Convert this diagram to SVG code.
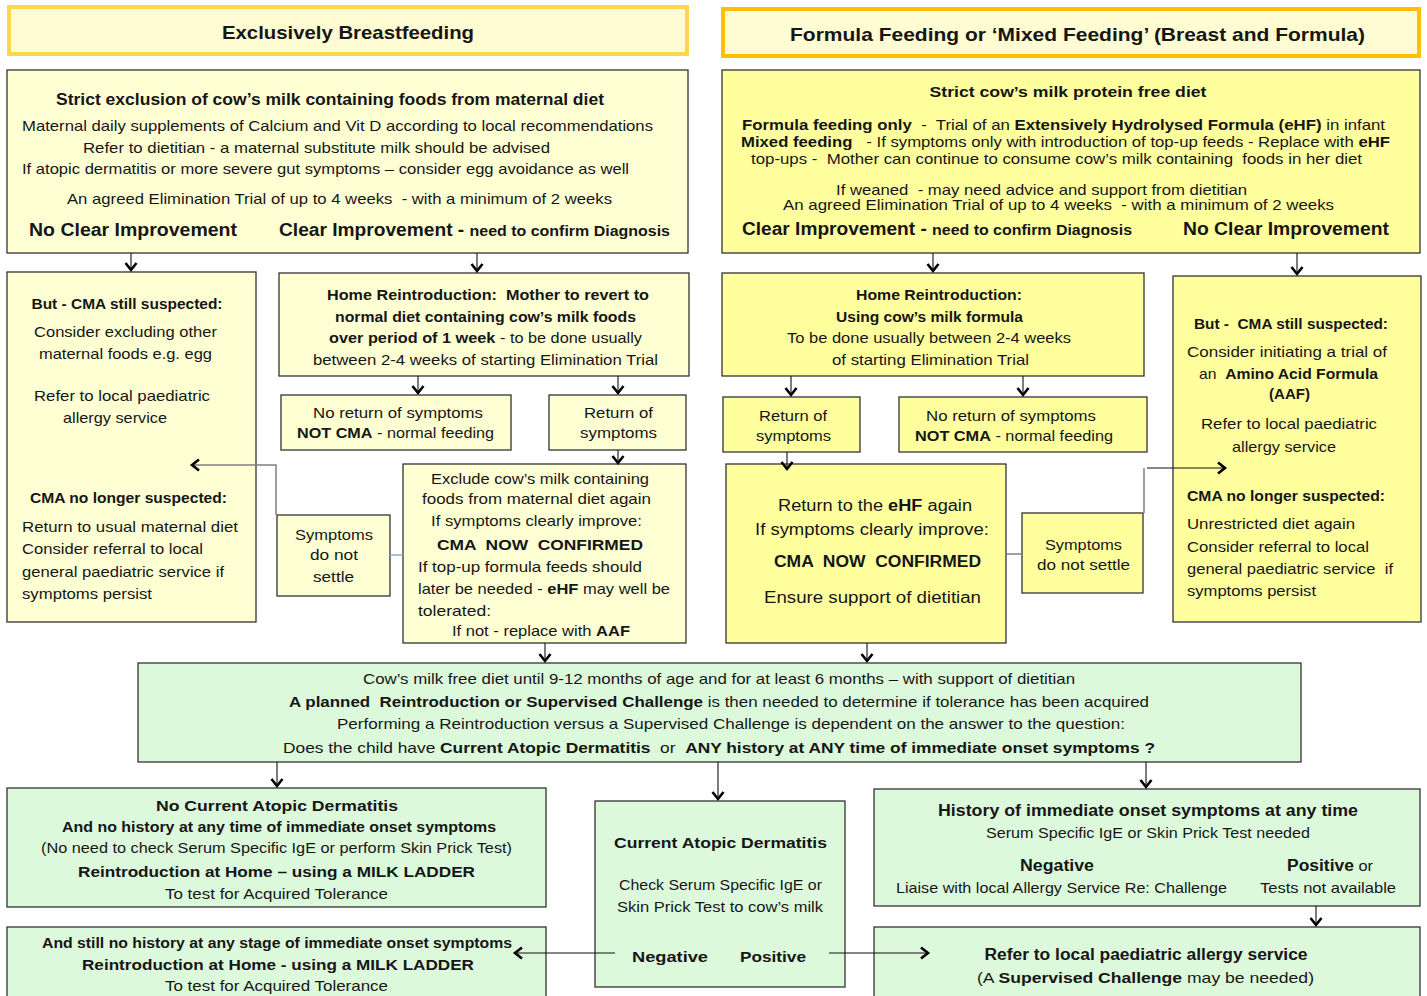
<svg xmlns="http://www.w3.org/2000/svg" width="1427" height="996" viewBox="0 0 1427 996">
<style>
.t{font-family:"Liberation Sans",Arial,sans-serif;font-size:15px;fill:#161616;white-space:pre}
.b{font-weight:bold}
.c{text-anchor:middle}
.big{font-size:18px;font-weight:bold}
.h{font-size:19px;font-weight:bold}
.hd1{fill:#fffbd2;stroke:#ffd54f;stroke-width:4}
.hd2{fill:#fffbd2;stroke:#ffc000;stroke-width:4}
.ly{fill:#ffffd4;stroke:#333;stroke-width:1.3}
.ry{fill:#ffff9e;stroke:#333;stroke-width:1.3}
.g{fill:#ddf9dc;stroke:#333;stroke-width:1.3}
.cn{stroke:#111;stroke-width:1.1;fill:none}
.gr{stroke:#808080;stroke-width:1.5;fill:none}
</style>
<defs>
<marker id="a" markerWidth="16" markerHeight="16" refX="9" refY="8" orient="auto" markerUnits="userSpaceOnUse">
<path d="M2,2.5 L9,8 L2,13.5" fill="none" stroke="#000" stroke-width="2.6"/>
</marker>
</defs>
<rect width="1427" height="996" fill="#fff"/>

<g id="hdr-left"><rect class="hd1" x="9" y="7" width="678" height="47"/><text class="t h c" x="348" y="39" textLength="252" lengthAdjust="spacingAndGlyphs">Exclusively Breastfeeding</text></g>
<g id="hdr-right"><rect class="hd2" x="723" y="9" width="696" height="47"/><text class="t h c" x="1077.5" y="41" textLength="575" lengthAdjust="spacingAndGlyphs">Formula Feeding or ‘Mixed Feeding’ (Breast and Formula)</text></g>

<g id="bf-start"><rect class="ly" x="7" y="70" width="681" height="183"/>
<text class="t b c" x="330" y="105" style="font-size:16px" textLength="548" lengthAdjust="spacingAndGlyphs">Strict exclusion of cow’s milk containing foods from maternal diet</text>
<text class="t" x="22" y="131" textLength="631" lengthAdjust="spacingAndGlyphs">Maternal daily supplements of Calcium and Vit D according to local recommendations</text>
<text class="t" x="83" y="153" textLength="467" lengthAdjust="spacingAndGlyphs">Refer to dietitian - a maternal substitute milk should be advised</text>
<text class="t" x="22" y="174" textLength="607" lengthAdjust="spacingAndGlyphs">If atopic dermatitis or more severe gut symptoms – consider egg avoidance as well</text>
<text class="t" x="67" y="204" textLength="545" lengthAdjust="spacingAndGlyphs">An agreed Elimination Trial of up to 4 weeks  - with a minimum of 2 weeks</text>
<text class="t big" x="29" y="236" textLength="208" lengthAdjust="spacingAndGlyphs">No Clear Improvement</text>
<text class="t big" x="279" y="236" textLength="391" lengthAdjust="spacingAndGlyphs">Clear Improvement - <tspan style="font-size:15px">need to confirm Diagnosis</tspan></text>
</g>

<g id="bf-suspected"><rect class="ly" x="7" y="272" width="249" height="350"/>
<text class="t b c" x="127" y="309" textLength="191" lengthAdjust="spacingAndGlyphs">But - CMA still suspected:</text>
<text class="t c" x="125.5" y="337" textLength="183" lengthAdjust="spacingAndGlyphs">Consider excluding other</text>
<text class="t c" x="125.5" y="359" textLength="173" lengthAdjust="spacingAndGlyphs">maternal foods e.g. egg</text>
<text class="t c" x="122" y="401" textLength="176" lengthAdjust="spacingAndGlyphs">Refer to local paediatric</text>
<text class="t c" x="115" y="423" textLength="104" lengthAdjust="spacingAndGlyphs">allergy service</text>
<text class="t b c" x="128.5" y="503" textLength="197" lengthAdjust="spacingAndGlyphs">CMA no longer suspected:</text>
<text class="t" x="22" y="532" textLength="216" lengthAdjust="spacingAndGlyphs">Return to usual maternal diet</text>
<text class="t" x="22" y="554" textLength="181" lengthAdjust="spacingAndGlyphs">Consider referral to local</text>
<text class="t" x="22" y="577" textLength="202" lengthAdjust="spacingAndGlyphs">general paediatric service if</text>
<text class="t" x="22" y="599" textLength="130" lengthAdjust="spacingAndGlyphs">symptoms persist</text>
</g>

<g id="bf-reintro"><rect class="ly" x="279" y="273" width="410" height="103"/>
<text class="t b c" x="488" y="300" textLength="322" lengthAdjust="spacingAndGlyphs">Home Reintroduction:  Mother to revert to</text>
<text class="t b c" x="485.5" y="322" textLength="301" lengthAdjust="spacingAndGlyphs">normal diet containing cow’s milk foods</text>
<text class="t c" x="485.5" y="343" textLength="313" lengthAdjust="spacingAndGlyphs"><tspan class="b">over period of 1 week</tspan> - to be done usually</text>
<text class="t c" x="485.5" y="365" textLength="345" lengthAdjust="spacingAndGlyphs">between 2-4 weeks of starting Elimination Trial</text>
</g>

<g id="bf-noreturn"><rect class="ly" x="281" y="395" width="230" height="55"/>
<text class="t c" x="398" y="418" textLength="170" lengthAdjust="spacingAndGlyphs">No return of symptoms</text>
<text class="t c" x="395.5" y="438" textLength="197" lengthAdjust="spacingAndGlyphs"><tspan class="b">NOT CMA</tspan> - normal feeding</text>
</g>

<g id="bf-return"><rect class="ly" x="549" y="395" width="137" height="55"/>
<text class="t c" x="618.5" y="418" textLength="69" lengthAdjust="spacingAndGlyphs">Return of</text>
<text class="t c" x="618.5" y="438" textLength="77" lengthAdjust="spacingAndGlyphs">symptoms</text>
</g>

<g id="bf-exclude"><rect class="ly" x="403" y="464" width="283" height="179"/>
<text class="t c" x="540" y="484" textLength="218" lengthAdjust="spacingAndGlyphs">Exclude cow’s milk containing</text>
<text class="t c" x="536.5" y="504" textLength="229" lengthAdjust="spacingAndGlyphs">foods from maternal diet again</text>
<text class="t c" x="536.5" y="526" textLength="211" lengthAdjust="spacingAndGlyphs">If symptoms clearly improve:</text>
<text class="t b c" x="540" y="550" textLength="206" lengthAdjust="spacingAndGlyphs">CMA  NOW  CONFIRMED</text>
<text class="t" x="418" y="572" textLength="224" lengthAdjust="spacingAndGlyphs">If top-up formula feeds should</text>
<text class="t" x="418" y="594" textLength="252" lengthAdjust="spacingAndGlyphs">later be needed - <tspan class="b">eHF</tspan> may well be</text>
<text class="t" x="418" y="616" textLength="73" lengthAdjust="spacingAndGlyphs">tolerated:</text>
<text class="t c" x="541" y="636" textLength="178" lengthAdjust="spacingAndGlyphs">If not - replace with <tspan class="b">AAF</tspan></text>
</g>

<g id="bf-nosettle"><rect class="ly" x="277" y="515" width="113" height="81"/>
<text class="t c" x="334" y="540" textLength="78" lengthAdjust="spacingAndGlyphs">Symptoms</text>
<text class="t c" x="334" y="560" textLength="48" lengthAdjust="spacingAndGlyphs">do not</text>
<text class="t c" x="333.5" y="582" textLength="41" lengthAdjust="spacingAndGlyphs">settle</text>
</g>

<g id="ff-start"><rect class="ry" x="722" y="70" width="698" height="183"/>
<text class="t b c" x="1068" y="97" textLength="277" lengthAdjust="spacingAndGlyphs">Strict cow’s milk protein free diet</text>
<text class="t" x="742" y="130" textLength="643" lengthAdjust="spacingAndGlyphs"><tspan class="b">Formula feeding only</tspan>  -  Trial of an <tspan class="b">Extensively Hydrolysed Formula (eHF)</tspan> in infant</text>
<text class="t" x="741" y="147" textLength="649" lengthAdjust="spacingAndGlyphs"><tspan class="b">Mixed feeding</tspan>   - If symptoms only with introduction of top-up feeds - Replace with <tspan class="b">eHF</tspan></text>
<text class="t" x="751" y="164" textLength="611" lengthAdjust="spacingAndGlyphs">top-ups -  Mother can continue to consume cow’s milk containing  foods in her diet</text>
<text class="t" x="836" y="195" textLength="411" lengthAdjust="spacingAndGlyphs">If weaned  - may need advice and support from dietitian</text>
<text class="t" x="783" y="210" textLength="551" lengthAdjust="spacingAndGlyphs">An agreed Elimination Trial of up to 4 weeks  - with a minimum of 2 weeks</text>
<text class="t big" x="742" y="235" textLength="390" lengthAdjust="spacingAndGlyphs">Clear Improvement - <tspan style="font-size:15px">need to confirm Diagnosis</tspan></text>
<text class="t big" x="1183" y="235" textLength="206" lengthAdjust="spacingAndGlyphs">No Clear Improvement</text>
</g>

<g id="ff-reintro"><rect class="ry" x="722" y="273" width="422" height="103"/>
<text class="t b c" x="939" y="300" textLength="166" lengthAdjust="spacingAndGlyphs">Home Reintroduction:</text>
<text class="t b c" x="929.5" y="322" textLength="187" lengthAdjust="spacingAndGlyphs">Using cow’s milk formula</text>
<text class="t c" x="929" y="343" textLength="284" lengthAdjust="spacingAndGlyphs">To be done usually between 2-4 weeks</text>
<text class="t c" x="930.5" y="365" textLength="197" lengthAdjust="spacingAndGlyphs">of starting Elimination Trial</text>
</g>

<g id="ff-return"><rect class="ry" x="723" y="397" width="137" height="55"/>
<text class="t c" x="793" y="421" textLength="68" lengthAdjust="spacingAndGlyphs">Return of</text>
<text class="t c" x="793.5" y="441" textLength="75" lengthAdjust="spacingAndGlyphs">symptoms</text>
</g>

<g id="ff-noreturn"><rect class="ry" x="899" y="397" width="248" height="55"/>
<text class="t c" x="1011" y="421" textLength="170" lengthAdjust="spacingAndGlyphs">No return of symptoms</text>
<text class="t c" x="1014" y="441" textLength="198" lengthAdjust="spacingAndGlyphs"><tspan class="b">NOT CMA</tspan> - normal feeding</text>
</g>

<g id="ff-ehf"><rect class="ry" x="726" y="464" width="280" height="179"/>
<text class="t c" x="875" y="511" style="font-size:16px" textLength="194" lengthAdjust="spacingAndGlyphs">Return to the <tspan class="b">eHF</tspan> again</text>
<text class="t c" x="872" y="535" style="font-size:16px" textLength="234" lengthAdjust="spacingAndGlyphs">If symptoms clearly improve:</text>
<text class="t b c" x="877.5" y="567" style="font-size:16px" textLength="207" lengthAdjust="spacingAndGlyphs">CMA  NOW  CONFIRMED</text>
<text class="t c" x="872.5" y="603" style="font-size:16px" textLength="217" lengthAdjust="spacingAndGlyphs">Ensure support of dietitian</text>
</g>

<g id="ff-nosettle"><rect class="ry" x="1022" y="513" width="121" height="80"/>
<text class="t c" x="1083.5" y="550" textLength="77" lengthAdjust="spacingAndGlyphs">Symptoms</text>
<text class="t c" x="1083.5" y="570" textLength="93" lengthAdjust="spacingAndGlyphs">do not settle</text>
</g>

<g id="ff-suspected"><rect class="ry" x="1173" y="276" width="248" height="346"/>
<text class="t b c" x="1291" y="329" textLength="194" lengthAdjust="spacingAndGlyphs">But -  CMA still suspected:</text>
<text class="t c" x="1287" y="357" textLength="200" lengthAdjust="spacingAndGlyphs">Consider initiating a trial of</text>
<text class="t c" x="1288.5" y="379" textLength="179" lengthAdjust="spacingAndGlyphs">an  <tspan class="b">Amino Acid Formula</tspan></text>
<text class="t b c" x="1289.5" y="399" textLength="41" lengthAdjust="spacingAndGlyphs">(AAF)</text>
<text class="t c" x="1289" y="429" textLength="176" lengthAdjust="spacingAndGlyphs">Refer to local paediatric</text>
<text class="t c" x="1284" y="452" textLength="104" lengthAdjust="spacingAndGlyphs">allergy service</text>
<text class="t b" x="1187" y="501" textLength="198" lengthAdjust="spacingAndGlyphs">CMA no longer suspected:</text>
<text class="t" x="1187" y="529" textLength="168" lengthAdjust="spacingAndGlyphs">Unrestricted diet again</text>
<text class="t" x="1187" y="552" textLength="182" lengthAdjust="spacingAndGlyphs">Consider referral to local</text>
<text class="t" x="1187" y="574" textLength="206" lengthAdjust="spacingAndGlyphs">general paediatric service  if</text>
<text class="t" x="1187" y="596" textLength="129" lengthAdjust="spacingAndGlyphs">symptoms persist</text>
</g>

<g id="diet"><rect class="g" x="138" y="663" width="1163" height="99"/>
<text class="t c" x="719" y="684" textLength="712" lengthAdjust="spacingAndGlyphs">Cow’s milk free diet until 9-12 months of age and for at least 6 months – with support of dietitian</text>
<text class="t c" x="719" y="707" textLength="860" lengthAdjust="spacingAndGlyphs"><tspan class="b">A planned  Reintroduction or Supervised Challenge</tspan> is then needed to determine if tolerance has been acquired</text>
<text class="t c" x="731" y="729" textLength="788" lengthAdjust="spacingAndGlyphs">Performing a Reintroduction versus a Supervised Challenge is dependent on the answer to the question:</text>
<text class="t c" x="719" y="753" textLength="872" lengthAdjust="spacingAndGlyphs">Does the child have <tspan class="b">Current Atopic Dermatitis</tspan>  or  <tspan class="b">ANY history at ANY time of immediate onset symptoms ?</tspan></text>
</g>

<g id="no-ad"><rect class="g" x="7" y="788" width="539" height="119"/>
<text class="t b c" x="277" y="811" textLength="242" lengthAdjust="spacingAndGlyphs">No Current Atopic Dermatitis</text>
<text class="t b c" x="279" y="832" textLength="434" lengthAdjust="spacingAndGlyphs">And no history at any time of immediate onset symptoms</text>
<text class="t c" x="276.5" y="853" textLength="471" lengthAdjust="spacingAndGlyphs">(No need to check Serum Specific IgE or perform Skin Prick Test)</text>
<text class="t b c" x="276.5" y="877" textLength="397" lengthAdjust="spacingAndGlyphs">Reintroduction at Home – using a MILK LADDER</text>
<text class="t c" x="276.5" y="899" textLength="223" lengthAdjust="spacingAndGlyphs">To test for Acquired Tolerance</text>
</g>

<g id="still-no"><rect class="g" x="7" y="927" width="539" height="75"/>
<text class="t b c" x="277" y="948" textLength="470" lengthAdjust="spacingAndGlyphs">And still no history at any stage of immediate onset symptoms</text>
<text class="t b c" x="278" y="970" textLength="392" lengthAdjust="spacingAndGlyphs">Reintroduction at Home - using a MILK LADDER</text>
<text class="t c" x="276.5" y="991" textLength="223" lengthAdjust="spacingAndGlyphs">To test for Acquired Tolerance</text>
</g>

<g id="current-ad"><rect class="g" x="595" y="801" width="250" height="186"/>
<text class="t b c" x="720.5" y="848" textLength="213" lengthAdjust="spacingAndGlyphs">Current Atopic Dermatitis</text>
<text class="t c" x="720.5" y="890" textLength="203" lengthAdjust="spacingAndGlyphs">Check Serum Specific IgE or</text>
<text class="t c" x="720" y="912" textLength="206" lengthAdjust="spacingAndGlyphs">Skin Prick Test to cow’s milk</text>
<text class="t b" x="632" y="962" textLength="76" lengthAdjust="spacingAndGlyphs">Negative</text>
<text class="t b" x="740" y="962" textLength="66" lengthAdjust="spacingAndGlyphs">Positive</text>
</g>

<g id="history"><rect class="g" x="874" y="789" width="546" height="117"/>
<text class="t b c" x="1148" y="816" style="font-size:16px" textLength="420" lengthAdjust="spacingAndGlyphs">History of immediate onset symptoms at any time</text>
<text class="t c" x="1148" y="838" textLength="324" lengthAdjust="spacingAndGlyphs">Serum Specific IgE or Skin Prick Test needed</text>
<text class="t b c" x="1057" y="871" style="font-size:16px" textLength="74" lengthAdjust="spacingAndGlyphs">Negative</text>
<text class="t c" x="1061.5" y="893" textLength="331" lengthAdjust="spacingAndGlyphs">Liaise with local Allergy Service Re: Challenge</text>
<text class="t c" x="1330" y="871" textLength="86" lengthAdjust="spacingAndGlyphs"><tspan class="b" style="font-size:16px">Positive</tspan> or</text>
<text class="t c" x="1328" y="893" textLength="136" lengthAdjust="spacingAndGlyphs">Tests not available</text>
</g>

<g id="refer"><rect class="g" x="874" y="927" width="546" height="75"/>
<text class="t b c" x="1146" y="960" style="font-size:16px" textLength="323" lengthAdjust="spacingAndGlyphs">Refer to local paediatric allergy service</text>
<text class="t c" x="1145.5" y="983" textLength="337" lengthAdjust="spacingAndGlyphs">(A <tspan class="b">Supervised Challenge</tspan> may be needed)</text>
</g>

<g id="connectors">
<line class="cn" x1="131" y1="253" x2="131" y2="270" marker-end="url(#a)"/>
<line class="cn" x1="477" y1="253" x2="477" y2="271" marker-end="url(#a)"/>
<line class="cn" x1="418" y1="376" x2="418" y2="393" marker-end="url(#a)"/>
<line class="cn" x1="618" y1="376" x2="618" y2="393" marker-end="url(#a)"/>
<line class="cn" x1="618" y1="450" x2="618" y2="463" marker-end="url(#a)"/>
<polyline class="gr" points="276,515 276,465 192,465" marker-end="url(#a)"/>
<line x1="390" y1="555" x2="403" y2="555" stroke="#8eaadb" stroke-width="1.5"/>
<line class="cn" x1="933" y1="253" x2="933" y2="271" marker-end="url(#a)"/>
<line class="cn" x1="1297" y1="253" x2="1297" y2="274" marker-end="url(#a)"/>
<line class="cn" x1="791" y1="376" x2="791" y2="395" marker-end="url(#a)"/>
<line class="cn" x1="1023" y1="376" x2="1023" y2="395" marker-end="url(#a)"/>
<line class="cn" x1="787" y1="452" x2="787" y2="469" marker-end="url(#a)"/>
<line class="gr" x1="1006" y1="554" x2="1022" y2="554"/>
<polyline class="gr" points="1144,513 1144,468"/>
<line class="cn" x1="1147" y1="468" x2="1225" y2="468" marker-end="url(#a)"/>
<line class="cn" x1="545" y1="643" x2="545" y2="661" marker-end="url(#a)"/>
<line class="cn" x1="867" y1="643" x2="867" y2="661" marker-end="url(#a)"/>
<line class="cn" x1="277" y1="762" x2="277" y2="786" marker-end="url(#a)"/>
<line class="cn" x1="718" y1="762" x2="718" y2="799" marker-end="url(#a)"/>
<line class="cn" x1="1146" y1="762" x2="1146" y2="787" marker-end="url(#a)"/>
<line class="cn" x1="615" y1="953" x2="515" y2="953" marker-end="url(#a)"/>
<line class="cn" x1="829" y1="953" x2="928" y2="953" marker-end="url(#a)"/>
<line class="cn" x1="1316" y1="906" x2="1316" y2="925" marker-end="url(#a)"/>
</g>
</svg>
